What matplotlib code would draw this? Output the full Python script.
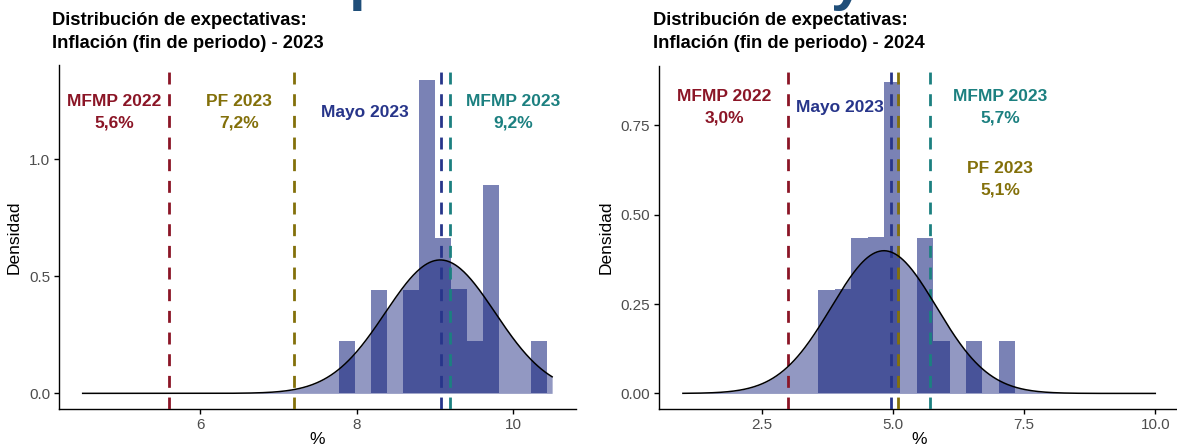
import numpy as np
import matplotlib
matplotlib.use('Agg')
import matplotlib.pyplot as plt

plt.rcParams['font.family'] = ['Liberation Sans', 'DejaVu Sans']

# ---------------- data ----------------
main_title = "Expectativas de mayo"
panel_titles = ["Distribución de expectativas:\nInflación (fin de periodo) - 2023",
                "Distribución de expectativas:\nInflación (fin de periodo) - 2024"]

# 2023 histogram
edges_2023 = [7.770, 7.975, 8.179, 8.384, 8.588, 8.793, 8.997, 9.202,
              9.406, 9.611, 9.815, 10.020, 10.224, 10.429]
counts_2023 = [1, 0, 2, 0, 2, 6, 3, 2, 1, 4, 0, 0, 1]
mean_2023, sd_2023 = 9.07, 0.70
curve_range_2023 = (4.5, 10.5)

# 2024 histogram
edges_2024 = [3.580, 3.893, 4.205, 4.518, 4.830, 5.143, 5.455, 5.768,
              6.080, 6.393, 6.705, 7.018, 7.330]
counts_2024 = [2, 2, 3, 3, 6, 0, 3, 1, 0, 1, 0, 1]
mean_2024, sd_2024 = 4.83, 1.0
curve_range_2024 = (1.0, 10.0)

# reference lines
ref_names_2023 = ["MFMP 2022", "PF 2023", "Mayo 2023", "MFMP 2023"]
ref_values_2023 = [5.6, 7.2, 9.08, 9.2]
ref_names_2024 = ["MFMP 2022", "Mayo 2023", "PF 2023", "MFMP 2023"]
ref_values_2024 = [3.0, 4.97, 5.1, 5.7]

# annotation labels
labels_2023 = ["MFMP 2022\n5,6%", "PF 2023\n7,2%", "Mayo 2023", "MFMP 2023\n9,2%"]
label_pos_2023 = [(4.90, 1.20), (6.50, 1.20), (8.11, 1.20), (10.0, 1.20)]
labels_2024 = ["MFMP 2022\n3,0%", "Mayo 2023", "PF 2023\n5,1%", "MFMP 2023\n5,7%"]
label_pos_2024 = [(1.79, 0.80), (4.0, 0.80), (7.04, 0.60), (7.04, 0.80)]

xticks_2023 = [6, 8, 10]
xticklabels_2023 = ["6", "8", "10"]
yticks_2023 = [0.0, 0.5, 1.0]
yticklabels_2023 = ["0.0", "0.5", "1.0"]
xticks_2024 = [2.5, 5.0, 7.5, 10.0]
xticklabels_2024 = ["2.5", "5.0", "7.5", "10.0"]
yticks_2024 = [0.0, 0.25, 0.50, 0.75]
yticklabels_2024 = ["0.00", "0.25", "0.50", "0.75"]

# ---------------- style ----------------
colors = {"MFMP 2022": "#8B1526", "PF 2023": "#83700A",
          "Mayo 2023": "#27358A", "MFMP 2023": "#1C8080"}
fill_color = "#0D1B78"
title_color = "#1F4E79"

fig = plt.figure(figsize=(11.77, 4.46), dpi=100)
W, H = 1177, 446

ax1 = fig.add_axes([59.2 / W, 37 / H, 516.4 / W, 344.2 / H])
ax2 = fig.add_axes([659.3 / W, 37 / H, 519.6 / W, 342.8 / H])

fig.text(0.5, 1 + 1.0 / H, main_title, ha='center', va='baseline',
         fontsize=43, fontweight='bold', color=title_color)


def draw_panel(ax, edges, counts, mean, sd, crange, ref_names, ref_values,
               labels, label_pos, xt, xtl, yt, ytl, title, title_x):
    edges = np.asarray(edges)
    counts = np.asarray(counts, dtype=float)
    widths = np.diff(edges)
    dens = counts / (counts.sum() * widths)
    ax.stairs(dens, edges, fill=True, color=fill_color, alpha=0.55,
              linewidth=0, zorder=2)
    xs = np.linspace(crange[0], crange[1], 400)
    pdf = np.exp(-0.5 * ((xs - mean) / sd) ** 2) / (sd * np.sqrt(2 * np.pi))
    ax.fill_between(xs, 0, pdf, color=fill_color, alpha=0.45, linewidth=0, zorder=2)
    ax.plot(xs, pdf, color='black', lw=1.1, zorder=4)
    for n, v in zip(ref_names, ref_values):
        ax.axvline(v, color=colors[n], lw=2.0, linestyle=(0, (4.3, 3.5)), zorder=3)
    for lab, (lx, ly) in zip(labels, label_pos):
        name = lab.split("\n")[0]
        ax.text(lx, ly, lab, ha='center', va='center', fontsize=12.5,
                fontweight='bold', color=colors[name], linespacing=1.55, zorder=5)
    top = dens.max()
    xr = crange[1] - crange[0]
    ax.set_xlim(crange[0] - 0.05 * xr, crange[1] + 0.05 * xr)
    ax.set_ylim(-0.05 * top, 1.05 * top)
    ax.set_xticks(xt)
    ax.set_xticklabels(xtl)
    ax.set_yticks(yt)
    ax.set_yticklabels(ytl)
    for s in ['top', 'right']:
        ax.spines[s].set_visible(False)
    for s in ['left', 'bottom']:
        ax.spines[s].set_linewidth(1.0)
    ax.tick_params(axis='both', labelsize=11, labelcolor='#4D4D4D', color='black',
                   length=3.5, width=1.0, pad=3)
    ax.set_ylabel("Densidad", fontsize=12.5, labelpad=5)
    ax.set_xlabel("%", fontsize=12.5, labelpad=0)
    fig.text(title_x / W, 1 - 12.0 / H, title, ha='left', va='top',
             fontsize=13.2, fontweight='bold', color='black', linespacing=1.45)


draw_panel(ax1, edges_2023, counts_2023, mean_2023, sd_2023, curve_range_2023,
           ref_names_2023, ref_values_2023, labels_2023, label_pos_2023,
           xticks_2023, xticklabels_2023, yticks_2023, yticklabels_2023,
           panel_titles[0], 52)
draw_panel(ax2, edges_2024, counts_2024, mean_2024, sd_2024, curve_range_2024,
           ref_names_2024, ref_values_2024, labels_2024, label_pos_2024,
           xticks_2024, xticklabels_2024, yticks_2024, yticklabels_2024,
           panel_titles[1], 653)

fig.savefig("out.png", dpi=100)
